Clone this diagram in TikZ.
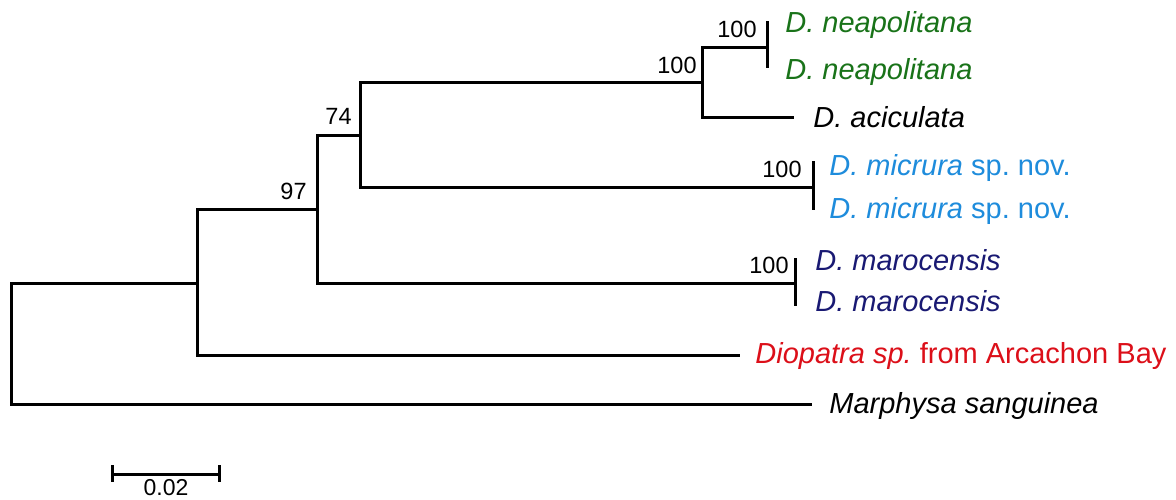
\documentclass[tikz,border=0pt]{standalone}
\usepackage{fontspec}
\setmainfont{Liberation Sans}
\frenchspacing
\definecolor{neagreen}{RGB}{25,115,25}
\definecolor{micblue}{RGB}{30,140,220}
\definecolor{marnavy}{RGB}{25,25,115}
\definecolor{diored}{RGB}{220,15,25}
\tikzset{
  branch/.style={line width=1.5pt, line join=miter, line cap=butt},
  tiplabel/.style={anchor=base west, inner sep=0pt, font=\fontsize{14.5}{16}\selectfont\itshape},
  boot/.style={anchor=base east, inner sep=0pt, font=\fontsize{11.75}{14}\selectfont},
}
\begin{document}
\begin{tikzpicture}[x=0.5pt, y=-0.5pt]
\fill[white] (0,0) rectangle (1176,499);
\useasboundingbox (0,0) rectangle (1176,499);
% internal nodes
\coordinate (nR) at (11,283);
\coordinate (nA) at (197,283);
\coordinate (nB) at (317,209);
\coordinate (nC) at (360,135);
\coordinate (nD) at (702,82);
\coordinate (nE) at (767,47);
\coordinate (nM) at (813,187);
\coordinate (nK) at (795,283);
% tips
\coordinate (t1) at (767,21);
\coordinate (t2) at (767,68);
\coordinate (t3) at (794,117);
\coordinate (t4) at (813,161);
\coordinate (t5) at (813,210);
\coordinate (t6) at (795,258);
\coordinate (t7) at (795,306);
\coordinate (t8) at (740,355);
\coordinate (t9) at (812,404);
% branches
\draw[branch] (nA) -- (nR) |- (t9);
\draw[branch] (nB) -| (nA) |- (t8);
\draw[branch] (nC) -| (nB) |- (nK);
\draw[branch] (nD) -| (nC) |- (nM);
\draw[branch] (nE) -| (nD) |- (t3);
\draw[branch] (t1) -- (t2);
\draw[branch] (t4) -- (t5);
\draw[branch] (t6) -- (t7);
% tip labels
\node[tiplabel, text=neagreen] (L1) at (785,32) {D. neapolitana};
\node[tiplabel, text=neagreen] (L2) at (785,79) {D. neapolitana};
\node[tiplabel, text=black] (L3) at (813,127) {D. aciculata};
\node[tiplabel, text=micblue] (L4) at (829,175) {D. micrura \upshape sp. nov.};
\node[tiplabel, text=micblue] (L5) at (829,218) {D. micrura \upshape sp. nov.};
\node[tiplabel, text=marnavy] (L6) at (815,270) {D. marocensis};
\node[tiplabel, text=marnavy] (L7) at (815,311) {D. marocensis};
\node[tiplabel, text=diored] (L8) at (755,363) {Diopatra sp. \upshape from Arcachon Bay};
\node[tiplabel, text=black] (L9) at (829,413) {Marphysa sanguinea};
% bootstrap values
\node[boot] (b1) at (757,37) {100};
\node[boot] (b2) at (697,73) {100};
\node[boot] (b3) at (352,124) {74};
\node[boot] (b4) at (307,199) {97};
\node[boot] (b5) at (802,177) {100};
\node[boot] (b6) at (789,273) {100};
% scale bar
\coordinate (s1) at (112,474);
\coordinate (s2) at (219,474);
\draw[branch] (s1) -- (s2);
\draw[branch] ([yshift=4.5pt]s1) -- ([yshift=-4pt]s1);
\draw[branch] ([yshift=4.5pt]s2) -- ([yshift=-4pt]s2);
\node[anchor=base, inner sep=0pt, font=\fontsize{11.5}{14}\selectfont] (sl) at (166,495) {0.02};
\end{tikzpicture}
\end{document}
